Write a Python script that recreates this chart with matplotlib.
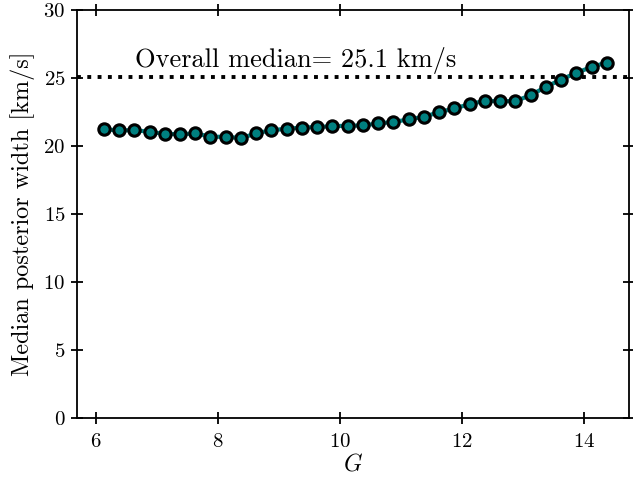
import numpy as np
import matplotlib
matplotlib.use("Agg")
import matplotlib.pyplot as plt

plt.rcParams["font.family"] = "serif"
plt.rcParams["font.serif"] = ["cmr10"]
plt.rcParams["mathtext.fontset"] = "cm"
plt.rcParams["axes.formatter.use_mathtext"] = True

# G magnitude bin centres and median posterior widths
g_mag = [6.125, 6.375, 6.625, 6.875, 7.125, 7.375, 7.625, 7.875, 8.125, 8.375,
         8.625, 8.875, 9.125, 9.375, 9.625, 9.875, 10.125, 10.375, 10.625, 10.875,
         11.125, 11.375, 11.625, 11.875, 12.125, 12.375, 12.625, 12.875, 13.125, 13.375,
         13.625, 13.875, 14.125, 14.375]
median_width = [21.25, 21.15, 21.18, 21.05, 20.9, 20.88, 20.93, 20.7, 20.68, 20.6,
                20.93, 21.18, 21.27, 21.37, 21.4, 21.47, 21.5, 21.52, 21.67, 21.78,
                21.96, 22.16, 22.5, 22.77, 23.09, 23.33, 23.31, 23.31, 23.75, 24.36,
                24.9, 25.39, 25.83, 26.15]
overall_median = 25.1

fig = plt.figure(figsize=(6.33, 4.86), dpi=100)
ax = fig.add_axes([0.122, 0.14, 0.872, 0.839])

ax.axhline(overall_median, color="black", ls=":", lw=2.8, zorder=1)
ax.plot(g_mag, median_width, color="#008080", lw=3, marker="o", ms=8.2,
        mfc="#008080", mec="black", mew=2.2, zorder=3)
ax.text(6.64, overall_median + 0.2, f"Overall median= {overall_median} km/s",
        fontsize=19, va="bottom")

ax.set_xlim(5.69, 14.74)
ax.set_ylim(0, 30)
ax.set_xticks([6, 8, 10, 12, 14])
ax.set_yticks(np.arange(0, 31, 5))
ax.tick_params(direction="inout", top=True, right=True, length=9, width=1.3,
               labelsize=15)
ax.tick_params(axis="x", pad=6)
ax.tick_params(axis="y", pad=4)
for sp in ax.spines.values():
    sp.set_linewidth(1.3)

ax.set_xlabel("$G$", fontsize=17, labelpad=2)
ax.set_ylabel("Median posterior width [km/s]", fontsize=17.5, labelpad=6)

fig.savefig("out.png", dpi=100)
